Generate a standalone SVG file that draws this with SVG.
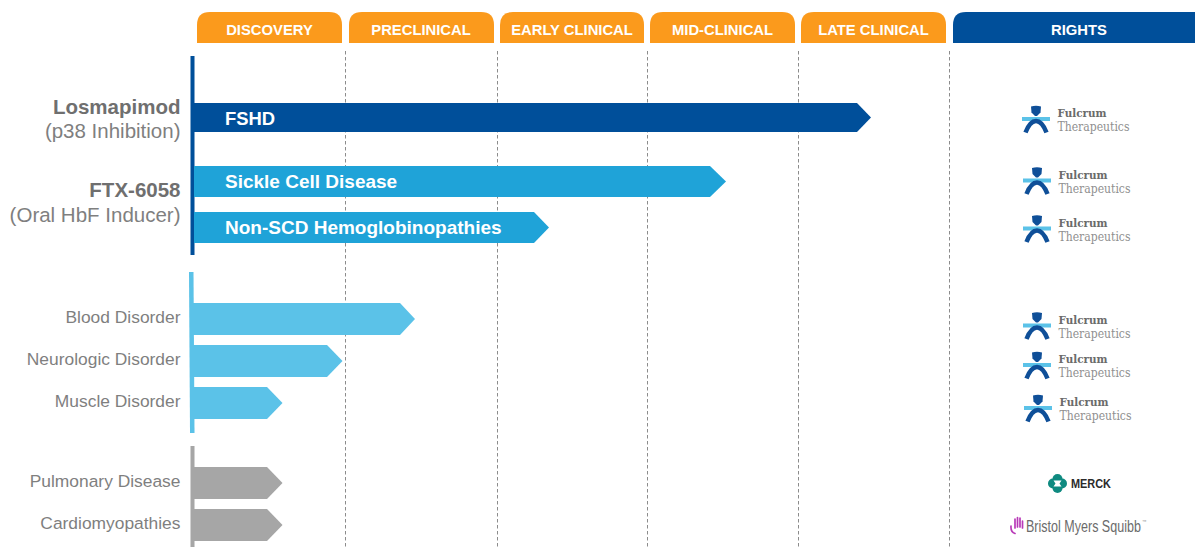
<svg xmlns="http://www.w3.org/2000/svg" width="1195" height="547" viewBox="0 0 1195 547">
<style>
text{font-family:"Liberation Sans",Arial,sans-serif}
.hd{font-size:14.800px;font-weight:700;fill:#fff;text-anchor:middle}
.lb{font-size:17.400px;fill:#7f7f7f;text-anchor:end}
.lg{font-size:20.500px;fill:#7f7f7f;text-anchor:end}
.lgb{font-size:20.500px;font-weight:700;fill:#6f6f6f;text-anchor:end}
.bar{font-size:19px;font-weight:700;fill:#fff}
.dash{stroke:#8c8c8c;stroke-width:1;stroke-dasharray:3.5 2.5;fill:none}
.or{fill:#fb9a1c}
.f1{font-family:"DejaVu Serif",serif;font-size:11.500px;font-weight:700;fill:#6b6b6b}
.f2{font-family:"DejaVu Serif",serif;font-size:12px;fill:#8f8f8f}
</style>
<defs>
<g id="fulcrum">
<path d="M-5 -12.500Q0 -14 5 -12.500L4.500 -6.500L1 -3H-1L-4.500 -6.500Z" fill="#0f4f98"/>
<rect x="-14" y="-2" width="28" height="4" fill="#5bc2e8"/>
<path d="M-10.500 13.500Q-6 2 0 2Q6 2 10.500 13.500" fill="none" stroke="#0f4f98" stroke-width="4.500"/>
<text class="f1" x="21.500" y="-2" textLength="49" lengthAdjust="spacingAndGlyphs">Fulcrum</text>
<text class="f2" x="21.500" y="12" textLength="72" lengthAdjust="spacingAndGlyphs">Therapeutics</text>
</g>
</defs>
<g id="connectors">
<path class="dash" d="M345.500 51V547M497.500 51V547M647.500 51V547M798.500 51V547M949.500 51V547"/>
</g>
<g id="stage-headers">
<g id="h-discovery"><path class="or" d="M197 43V25Q197 12 210 12H329Q342 12 342 25V43Z"/><text class="hd" x="269.500" y="35">DISCOVERY</text></g>
<g id="h-preclinical"><path class="or" d="M349 43V25Q349 12 362 12H481Q494 12 494 25V43Z"/><text class="hd" x="421" y="35">PRECLINICAL</text></g>
<g id="h-early"><path class="or" d="M500 43V25Q500 12 513 12H631Q644 12 644 25V43Z"/><text class="hd" x="572" y="35">EARLY CLINICAL</text></g>
<g id="h-mid"><path class="or" d="M650 43V25Q650 12 663 12H782Q795 12 795 25V43Z"/><text class="hd" x="722.500" y="35">MID-CLINICAL</text></g>
<g id="h-late"><path class="or" d="M801 43V25Q801 12 814 12H933Q946 12 946 25V43Z"/><text class="hd" x="873.500" y="35">LATE CLINICAL</text></g>
<g id="h-rights"><path fill="#004f9a" d="M953 43V25Q953 12 966 12H1195V43Z"/><text class="hd" x="1079" y="35">RIGHTS</text></g>
</g>
<g id="brackets">
<rect x="190.500" y="56" width="4" height="199" fill="#004f9a"/>
<path d="M189 272H193.500L194.500 433H190Z" fill="#5bc2e8"/>
<rect x="190.500" y="446" width="4" height="101" fill="#a6a6a6"/>
</g>
<g id="fshd"><path fill="#004f9a" d="M194 103H857L871 117.500L857 132H194Z"/><text class="bar" x="225" y="124.500" style="font-size:18.400px">FSHD</text></g>
<g id="scd"><path fill="#1fa3d8" d="M194 166H710L726 181.500L710 197H194Z"/><text class="bar" x="225" y="188">Sickle Cell Disease</text></g>
<g id="non-scd"><path fill="#1fa3d8" d="M194 212H534L549 227.500L534 243H194Z"/><text class="bar" x="225" y="234">Non-SCD Hemoglobinopathies</text></g>
<g id="blood"><path fill="#5bc2e8" d="M193 303H400L415 319L400 335H193Z"/></g>
<g id="neuro"><path fill="#5bc2e8" d="M193 345H327L342.500 361L327 377H193Z"/></g>
<g id="muscle"><path fill="#5bc2e8" d="M194 387H267L282.500 403L267 419H194Z"/></g>
<g id="pulm"><path fill="#a6a6a6" d="M194 467H267L282.500 483L267 499H194Z"/></g>
<g id="cardio"><path fill="#a6a6a6" d="M194 509H267L282.500 525L267 541H194Z"/></g>
<g id="labels">
<text class="lgb" x="180.500" y="114">Losmapimod</text>
<text class="lg" x="180.500" y="138">(p38 Inhibition)</text>
<text class="lgb" x="180.500" y="197">FTX-6058</text>
<text class="lg" x="180.500" y="222">(Oral HbF Inducer)</text>
<text class="lb" x="180.500" y="323">Blood Disorder</text>
<text class="lb" x="180.500" y="365">Neurologic Disorder</text>
<text class="lb" x="180.500" y="407">Muscle Disorder</text>
<text class="lb" x="180.500" y="487">Pulmonary Disease</text>
<text class="lb" x="180.500" y="529">Cardiomyopathies</text>
</g>
<g id="rights">
<use href="#fulcrum" x="1036" y="119"/>
<use href="#fulcrum" x="1037" y="180.500"/>
<use href="#fulcrum" x="1037" y="228.500"/>
<use href="#fulcrum" x="1037" y="325.500"/>
<use href="#fulcrum" x="1037" y="365"/>
<use href="#fulcrum" x="1038" y="408"/>
<g id="merck">
<circle cx="1057.500" cy="479" r="5" fill="#0f8a80"/>
<circle cx="1057.500" cy="488" r="5" fill="#0f8a80"/>
<circle cx="1053" cy="483.500" r="5" fill="#0f8a80"/>
<circle cx="1062" cy="483.500" r="5" fill="#0f8a80"/>
<path fill="#fff" d="M1053.500 480.500H1061.500L1059.500 483.500L1061.500 486.500H1053.500L1055.500 483.500Z"/>
<text x="1071" y="488" style="font-size:13px;font-weight:700;fill:#2b2b2b" textLength="40" lengthAdjust="spacingAndGlyphs">MERCK</text>
</g>
<g id="bms">
<path fill="none" stroke="#b93ab8" stroke-width="1.700" stroke-linecap="round" d="M1011 526Q1010.500 532 1015 533.500M1015 528V519M1017.500 527V517.500M1020 527V518M1022.500 528V521"/>
<text transform="translate(1026 532) scale(.76 1)" style="font-size:16.500px;fill:#6b6b6b">Bristol Myers Squibb</text>
<text x="1142" y="523" style="font-size:4.500px;fill:#8f8f8f">™</text>
</g>
</g>
</svg>
